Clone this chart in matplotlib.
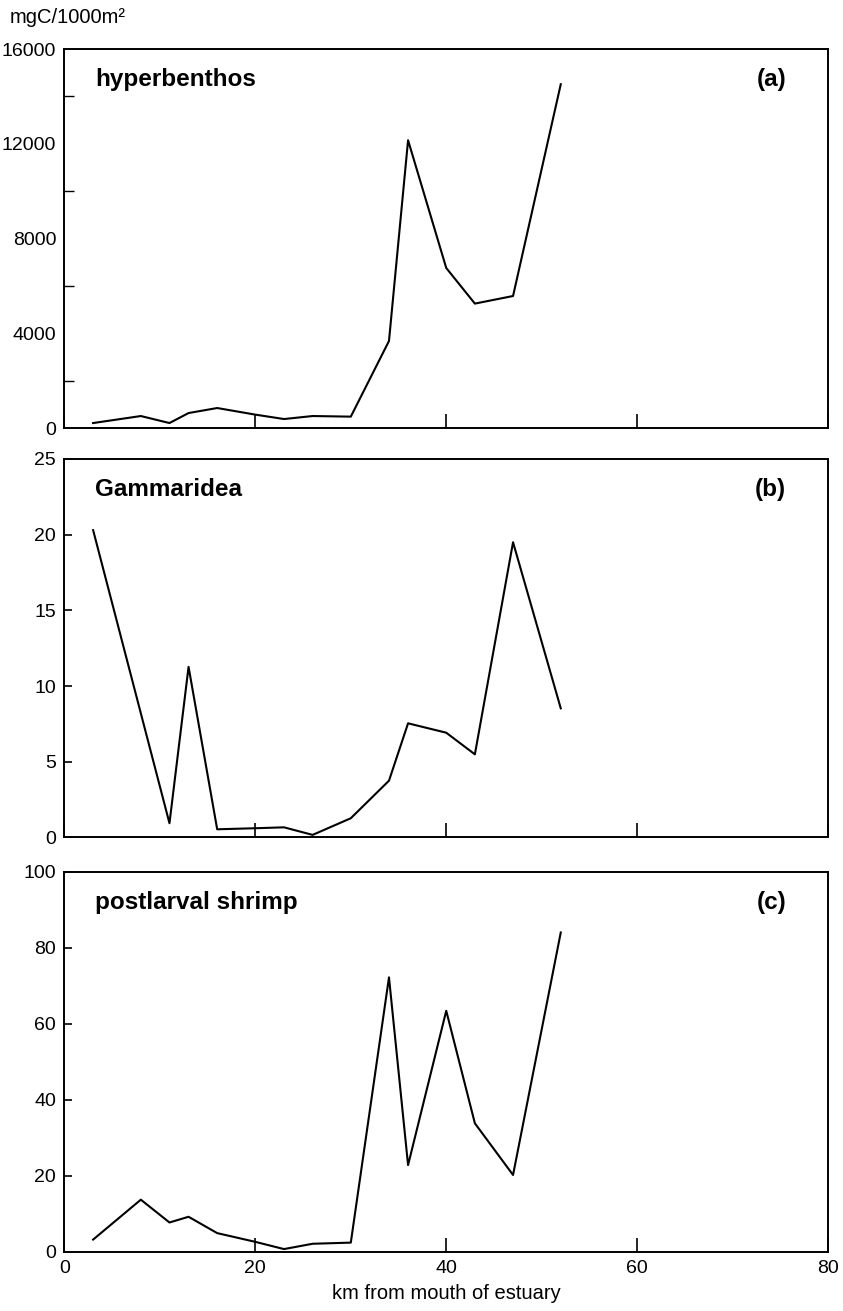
import numpy as np
import matplotlib
matplotlib.use('Agg')
import matplotlib.pyplot as plt
from matplotlib.ticker import MultipleLocator

plt.rcParams['font.family'] = ['Liberation Sans', 'DejaVu Sans']

# stations, km from mouth of estuary
km = [3, 8, 11, 13, 16, 20, 23, 26, 30, 34, 36, 40, 43, 47, 52]

hyperbenthos = [211, 507, 211, 633, 845, 566, 380, 507, 481, 3674, 12150, 6757, 5253, 5574, 14514]
gammaridea = [20.3, 8.2, 0.94, 11.27, 0.54, 0.61, 0.67, 0.17, 1.27, 3.75, 7.54, 6.92, 5.49, 19.5, 8.53]
shrimp = [3.2, 13.7, 7.7, 9.2, 4.9, 2.6, 0.7, 2.1, 2.4, 72.2, 22.8, 63.4, 33.8, 20.2, 84.0]

names = ['hyperbenthos', 'Gammaridea', 'postlarval shrimp']
tags = ['(a)', '(b)', '(c)']
ymax = [16000, 25, 100]
ystep = [4000, 5, 20]

fig = plt.figure(figsize=(8.43, 13.11), dpi=100)
# panel boxes in figure fraction (left, bottom, width, height)
boxes = [(0.0765, 0.6735, 0.9057, 0.2891),
         (0.0765, 0.3612, 0.9057, 0.2887),
         (0.0765, 0.0452, 0.9057, 0.2899)]

for i, y in enumerate([hyperbenthos, gammaridea, shrimp]):
    ax = fig.add_axes(boxes[i])
    ax.plot(km, y, color='black', lw=1.5)
    ax.set_xlim(0, 80)
    ax.set_ylim(0, ymax[i])
    ax.yaxis.set_major_locator(MultipleLocator(ystep[i]))
    for s in ax.spines.values():
        s.set_linewidth(1.4)
    ax.tick_params(axis='both', direction='in', labelsize=14, width=1.2, pad=6)
    ax.tick_params(axis='y', length=6)
    ax.tick_params(axis='x', length=10)
    ax.set_xticks([0, 20, 40, 60, 80])
    if i == 0:
        ax.yaxis.set_minor_locator(MultipleLocator(2000))
        ax.tick_params(axis='y', which='minor', direction='in', length=7, width=1.0)
        ax.tick_params(axis='y', which='major', length=0)
    if i < 2:
        ax.tick_params(axis='x', labelbottom=False)
    else:
        ax.set_xlabel('km from mouth of estuary', fontsize=14.5, labelpad=5)
    ax.text(0.040, 0.902, names[i], transform=ax.transAxes, fontsize=17.5,
            fontweight='bold', ha='left', va='baseline')
    ax.text(0.945, 0.902, tags[i], transform=ax.transAxes, fontsize=17.5,
            fontweight='bold', ha='right', va='baseline')

fig.text(10 / 843, 1 - 23 / 1311, 'mgC/1000m²', fontsize=14.5, ha='left', va='baseline')

fig.savefig('out.png', dpi=100)
